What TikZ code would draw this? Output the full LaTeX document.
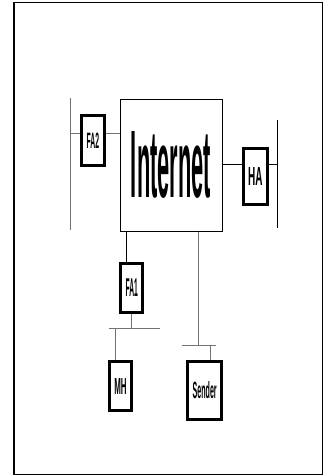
\documentclass[tikz,border=0pt]{standalone}
\usepackage{fontspec}
\setmainfont{Liberation Sans}
\begin{document}
\begin{tikzpicture}[x=1pt,y=-1pt]
\tikzset{
  box/.style={draw=black,line width=3pt,inner sep=0pt,fill=white},
  netbox/.style={draw=black,line width=1pt,inner sep=0pt,fill=white},
  gln/.style={line width=1pt,draw=black!55},
  bln/.style={line width=1pt,draw=black}
}
\useasboundingbox (0,0) rectangle (329,476);
\draw[line width=1.5pt] (14,2.7) rectangle (322.3,474.3);

% nodes
\node[netbox,minimum width=102pt,minimum height=131pt] (Inet) at (171,165.5) {};
\node (InetT) at (171,164.5) {\resizebox{80pt}{66pt}{\bfseries Internet}};
\node[box,minimum width=22.7pt,minimum height=49.7pt] (FA2) at (92.9,140.4) {\resizebox{12.5pt}{15.5pt}{\bfseries FA2}};
\node[box,minimum width=24.3pt,minimum height=55.7pt] (HA) at (255.4,176.7) {\resizebox{14.4pt}{18pt}{\bfseries HA}};
\node[box,minimum width=22pt,minimum height=49pt] (FA1) at (131.8,288) {\resizebox{12.3pt}{17.7pt}{\bfseries FA1}};
\node[box,minimum width=22.6pt,minimum height=49pt] (MH) at (120.5,386) {\resizebox{12.3pt}{16pt}{\bfseries MH}};
\node[box,minimum width=34.3pt,minimum height=58pt] (Sender) at (204.7,390.5) {\resizebox{24pt}{17pt}{\bfseries Sender}};

% coordinates
\coordinate (lt) at (70.7,98);
\coordinate (lb) at (70.7,230);
\coordinate (fa2y) at (0,133);
\coordinate (rt) at (277.7,120);
\coordinate (rb) at (277.7,228);
\coordinate (hay) at (0,164.3);
\coordinate (c1) at (126,0);
\coordinate (b1l) at (109.3,328.7);
\coordinate (b1r) at (160,328.7);
\coordinate (mhx) at (115,0);
\coordinate (c2) at (198.5,0);
\coordinate (b2l) at (182,345);
\coordinate (b2r) at (216,345);
\coordinate (sx) at (210,0);

% left segment
\draw[gln] (lt) -- (lb);
\draw[gln] (fa2y -| lt) -- (fa2y -| FA2.west);
\draw[gln] (fa2y -| FA2.east) -- (fa2y -| Inet.west);

% right segment
\draw[bln] (rt) -- (rb);
\draw[bln] (hay -| Inet.east) -- (hay -| HA.west);
\draw[bln] (hay -| HA.east) -- (hay -| rt);

% FA1 and MH
\draw[bln] (c1 |- Inet.south) -- (c1 |- FA1.north);
\draw[gln] (FA1.south) -- (FA1.south |- b1l);
\draw[gln] (b1l) -- (b1r);
\draw[gln] (mhx |- b1l) -- (mhx |- MH.north);

% Sender
\draw[gln] (c2 |- Inet.south) -- (c2 |- b2l);
\draw[gln] (b2l) -- (b2r);
\draw[gln] (sx |- b2l) -- (sx |- Sender.north);
\end{tikzpicture}
\end{document}
